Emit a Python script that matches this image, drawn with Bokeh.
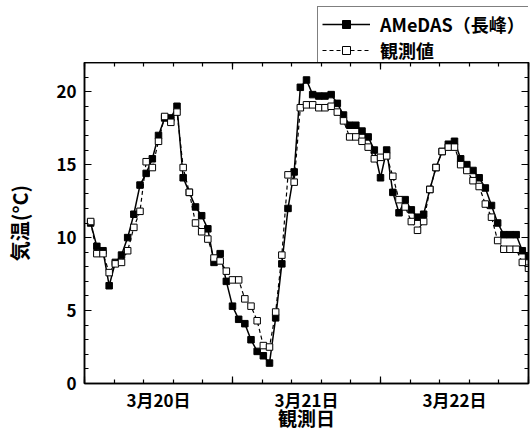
from bokeh.plotting import figure
from bokeh.layouts import column
from bokeh.models import (FixedTicker, LinearAxis, Range1d, Legend, LegendItem,
                          ColumnDataSource, CustomJSTickFormatter)
from bokeh.embed import file_html
from bokeh.resources import INLINE

# Hourly temperatures, 3/20 01:00 through 3/23 00:00 (hour index 1..72)
hours = list(range(1, 73))
amedas = [11.0, 9.4, 9.1, 6.7, 8.3, 8.8, 10.0, 11.6, 13.6, 14.4, 15.4, 17.0,
          18.2, 18.2, 19.0, 14.1, 13.1, 12.1, 11.5, 10.6, 8.3, 8.9, 7.0, 5.3,
          4.4, 4.1, 3.0, 2.2, 1.9, 1.4, 4.5, 8.2, 12.0, 14.5, 20.3, 20.8,
          19.8, 19.7, 19.7, 19.8, 19.2, 18.4, 17.7, 17.7, 17.3, 16.9, 16.0, 14.1,
          16.0, 13.1, 11.7, 12.6, 11.9, 11.4, 11.6, 13.3, 14.8, 15.9, 16.4, 16.6,
          15.4, 15.0, 14.6, 14.1, 13.4, 12.2, 11.0, 10.2, 10.2, 10.2, 9.1, 8.7]
observed = [11.1, 8.9, 8.9, 7.6, 8.2, 8.3, 9.1, 10.7, 11.8, 15.2, 14.8, 16.6,
            18.3, 17.9, 18.6, 14.8, 13.1, 11.0, 10.4, 9.9, 8.6, 8.4, 7.7, 7.1,
            7.1, 5.8, 5.3, 4.3, 2.6, 2.5, 4.9, 8.8, 14.3, 13.8, 18.9, 19.1,
            19.1, 18.9, 18.9, 19.0, 18.6, 18.0, 16.9, 16.9, 16.6, 16.2, 15.4, 15.5,
            15.6, 14.2, 12.6, 12.1, 11.1, 10.5, 11.1, 13.3, 14.8, 15.9, 16.2, 16.2,
            15.0, 14.6, 13.9, 13.5, 12.3, 11.4, 9.8, 9.2, 9.2, 9.2, 8.3, 7.9]
series_names = ["AMeDAS（長峰）", "観測値"]

day_ticks = [12, 36, 60]
day_labels = ["3月20日", "3月21日", "3月22日"]
day_bounds = [0, 24, 48, 72]
y_ticks = [0, 5, 10, 15, 20]

FONT = "Noto Sans CJK JP"

src = ColumnDataSource(dict(h=hours, amedas=amedas, observed=observed))

solid_style = dict(line_color="black", line_width=1.5)
dash_style = dict(line_color="black", line_width=1.2, line_dash="4 3")
filled_sq = dict(marker="square", size=6.5, fill_color="black", line_color="black")
open_sq = dict(marker="square", size=6.5, fill_color="white", line_color="black",
               line_width=1)

# ---- main chart ----
p = figure(width=530, height=383, x_range=Range1d(0, 72), y_range=Range1d(0, 22),
           output_backend="svg", toolbar_location=None,
           min_border_left=84, min_border_right=2, min_border_top=0, min_border_bottom=62)
p.grid.visible = False
p.outline_line_color = "black"
p.outline_line_width = 1.5
p.background_fill_color = "white"
p.border_fill_color = "white"

minor_x = [round(4.8 * i, 1) for i in range(16)]
minor_y = list(range(0, 23))
blank = CustomJSTickFormatter(code="return ''")


def tick_style(ax):
    ax.axis_line_color = "black"
    ax.axis_line_width = 1.5
    ax.major_tick_in = 7
    ax.major_tick_out = 0
    ax.minor_tick_in = 4
    ax.minor_tick_out = 0
    ax.major_tick_line_color = "black"
    ax.minor_tick_line_color = "black"
    ax.major_tick_line_width = 1.2
    ax.minor_tick_line_width = 1.2


# bottom axis: day boundaries with minor ticks, no labels
xa = p.xaxis[0]
xa.ticker = FixedTicker(ticks=day_bounds, minor_ticks=minor_x)
tick_style(xa)
xa.formatter = blank
xa.major_label_standoff = 0

# second bottom axis carrying the day labels and the axis title
xl = LinearAxis(ticker=FixedTicker(ticks=day_ticks, minor_ticks=[]),
                major_label_overrides={t: s for t, s in zip(day_ticks, day_labels)})
xl.axis_line_color = None
xl.major_tick_line_color = None
xl.major_tick_in = 0
xl.major_tick_out = 0
xl.major_label_standoff = 3
xl.major_label_text_font = FONT
xl.major_label_text_font_size = "17px"
xl.major_label_text_font_style = "bold"
xl.major_label_text_color = "black"
xl.axis_label = "観測日"
xl.axis_label_text_font = FONT
xl.axis_label_text_font_size = "19px"
xl.axis_label_text_font_style = "bold"
xl.axis_label_text_color = "black"
xl.axis_label_standoff = -11
p.add_layout(xl, "below")

# left axis
ya = p.yaxis[0]
ya.ticker = FixedTicker(ticks=y_ticks, minor_ticks=minor_y)
tick_style(ya)
ya.major_label_standoff = 8
ya.major_label_text_font = FONT
ya.major_label_text_font_size = "17px"
ya.major_label_text_font_style = "bold"
ya.major_label_text_color = "black"
ya.axis_label = "気温(°C)"
ya.axis_label_text_font = FONT
ya.axis_label_text_font_size = "20px"
ya.axis_label_text_font_style = "bold"
ya.axis_label_text_color = "black"
ya.axis_label_standoff = 19

# mirrored tick-only axes on top and right
top = LinearAxis(ticker=FixedTicker(ticks=day_bounds, minor_ticks=minor_x))
right = LinearAxis(ticker=FixedTicker(ticks=y_ticks, minor_ticks=minor_y))
for ax in (top, right):
    tick_style(ax)
    ax.formatter = blank
    ax.major_label_standoff = 0
p.add_layout(top, "above")
p.add_layout(right, "right")

# AMeDAS series: solid line with filled squares
p.line("h", "amedas", source=src, **solid_style)
p.scatter("h", "amedas", source=src, **filled_sq)
# on-site observations: dashed line with open squares
p.line("h", "observed", source=src, **dash_style)
p.scatter("h", "observed", source=src, **open_sq)

# ---- key strip above the chart ----
# the key's renderers share the data but sit outside this strip's ranges,
# so only the legend entries are visible here
k = figure(width=530, height=62, x_range=Range1d(-20, -10), y_range=Range1d(-20, -10),
           output_backend="svg", toolbar_location=None,
           x_axis_location=None, y_axis_location=None,
           min_border_left=0, min_border_right=0, min_border_top=0, min_border_bottom=0)
k.grid.visible = False
k.outline_line_color = None
k.background_fill_color = "white"
k.border_fill_color = "white"

kl1 = k.line("h", "amedas", source=src, **solid_style)
ks1 = k.scatter("h", "amedas", source=src, **filled_sq)
kl2 = k.line("h", "observed", source=src, **dash_style)
ks2 = k.scatter("h", "observed", source=src, **open_sq)

legend = Legend(items=[LegendItem(label=series_names[0], renderers=[kl1, ks1]),
                       LegendItem(label=series_names[1], renderers=[kl2, ks2])],
                location=(233, -6))
legend.padding = 4
legend.spacing = -5
legend.glyph_width = 48
legend.glyph_height = 20
legend.label_height = 20
legend.label_standoff = 10
legend.label_text_font = FONT
legend.label_text_font_size = "18px"
legend.label_text_font_style = "bold"
legend.label_text_color = "black"
legend.border_line_color = "black"
legend.border_line_width = 1.2
legend.background_fill_color = "white"
legend.background_fill_alpha = 1
legend.margin = 0
k.add_layout(legend, "center")

layout = column(k, p, spacing=0)
open("out.html", "w").write(file_html(layout, INLINE))
